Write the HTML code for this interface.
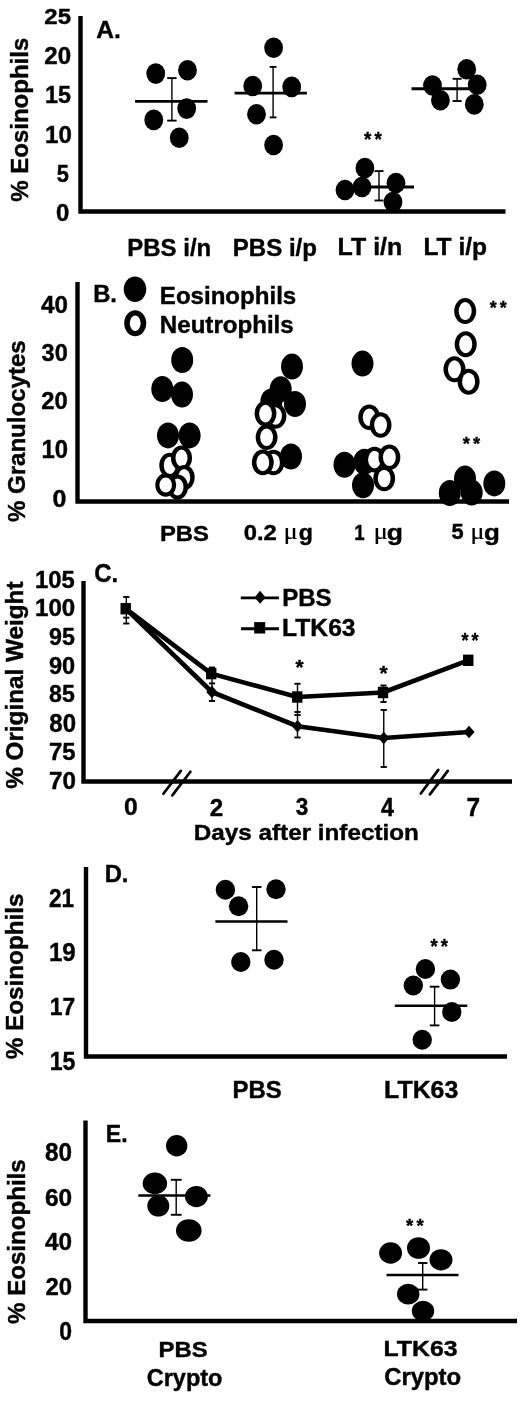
<!DOCTYPE html>
<html><head><meta charset="utf-8"><style>
html,body{margin:0;padding:0;background:#fff;}
svg{display:block;filter:blur(0.35px);}
</style></head><body>
<svg width="520" height="1401" viewBox="0 0 520 1401">
<rect width="520" height="1401" fill="#fff"/>
<path d="M80.5 16 V211.5 H505.5" fill="none" stroke="#000" stroke-width="4.4" stroke-linejoin="miter"/>
<text transform="translate(44.36,24.37) scale(1.0519,1)" font-family="&quot;Liberation Sans&quot;, sans-serif" font-weight="bold" font-size="22.82" fill="#000" stroke="#000" stroke-width="0.4">25</text>
<text transform="translate(44.36,63.57) scale(1.0290,1)" font-family="&quot;Liberation Sans&quot;, sans-serif" font-weight="bold" font-size="23.38" fill="#000" stroke="#000" stroke-width="0.4">20</text>
<text transform="translate(45.05,102.96) scale(0.9913,1)" font-family="&quot;Liberation Sans&quot;, sans-serif" font-weight="bold" font-size="23.57" fill="#000" stroke="#000" stroke-width="0.4">15</text>
<text transform="translate(45.00,143.16) scale(1.0099,1)" font-family="&quot;Liberation Sans&quot;, sans-serif" font-weight="bold" font-size="23.87" fill="#000" stroke="#000" stroke-width="0.4">10</text>
<text transform="translate(56.65,181.56) scale(0.9193,1)" font-family="&quot;Liberation Sans&quot;, sans-serif" font-weight="bold" font-size="23.71" fill="#000" stroke="#000" stroke-width="0.4">5</text>
<text transform="translate(56.04,220.56) scale(1.0083,1)" font-family="&quot;Liberation Sans&quot;, sans-serif" font-weight="bold" font-size="23.80" fill="#000" stroke="#000" stroke-width="0.4">0</text>
<text transform="translate(96.29,38.00) scale(0.9898,1)" font-family="&quot;Liberation Sans&quot;, sans-serif" font-weight="bold" font-size="24.78" fill="#000" stroke="#000" stroke-width="0.4">A.</text>
<text transform="translate(28.35,201.80) rotate(-90) scale(0.9987,1)" font-family="&quot;Liberation Sans&quot;, sans-serif" font-weight="bold" font-size="24.06" fill="#000" stroke="#000" stroke-width="0.4">% Eosinophils</text>
<text transform="translate(127.34,255.80) scale(0.9812,1)" font-family="&quot;Liberation Sans&quot;, sans-serif" font-weight="bold" font-size="24.43" fill="#000" stroke="#000" stroke-width="0.4">PBS i/n</text>
<text transform="translate(232.84,255.50) scale(1.0259,1)" font-family="&quot;Liberation Sans&quot;, sans-serif" font-weight="bold" font-size="23.43" fill="#000" stroke="#000" stroke-width="0.4">PBS i/p</text>
<text transform="translate(337.58,254.80) scale(1.0514,1)" font-family="&quot;Liberation Sans&quot;, sans-serif" font-weight="bold" font-size="23.77" fill="#000" stroke="#000" stroke-width="0.4">LT i/n</text>
<text transform="translate(423.40,254.80) scale(1.0328,1)" font-family="&quot;Liberation Sans&quot;, sans-serif" font-weight="bold" font-size="23.77" fill="#000" stroke="#000" stroke-width="0.4">LT i/p</text>
<line x1="135" y1="101.4" x2="207.5" y2="101.4" stroke="#000" stroke-width="2.8" stroke-linecap="butt"/>
<line x1="171.9" y1="78.1" x2="171.9" y2="120.6" stroke="#000" stroke-width="1.4" stroke-linecap="butt"/>
<line x1="167.20000000000002" y1="78.1" x2="176.6" y2="78.1" stroke="#000" stroke-width="1.9" stroke-linecap="butt"/>
<line x1="167.20000000000002" y1="120.6" x2="176.6" y2="120.6" stroke="#000" stroke-width="1.9" stroke-linecap="butt"/>
<ellipse cx="155.75" cy="73.6" rx="9.4" ry="10.3" fill="#000"/>
<ellipse cx="187.5" cy="70.2" rx="9.4" ry="10.3" fill="#000"/>
<ellipse cx="186.7" cy="108.6" rx="9.4" ry="10.3" fill="#000"/>
<ellipse cx="153.75" cy="119.9" rx="9.4" ry="10.3" fill="#000"/>
<ellipse cx="179.25" cy="137.8" rx="9.4" ry="10.3" fill="#000"/>
<line x1="234.6" y1="93.2" x2="306.9" y2="93.2" stroke="#000" stroke-width="2.8" stroke-linecap="butt"/>
<line x1="273.1" y1="66.9" x2="273.1" y2="117.4" stroke="#000" stroke-width="1.4" stroke-linecap="butt"/>
<line x1="269.70000000000005" y1="66.9" x2="276.5" y2="66.9" stroke="#000" stroke-width="1.9" stroke-linecap="butt"/>
<line x1="269.70000000000005" y1="117.4" x2="276.5" y2="117.4" stroke="#000" stroke-width="1.9" stroke-linecap="butt"/>
<ellipse cx="273.6" cy="47.7" rx="9.4" ry="10.3" fill="#000"/>
<ellipse cx="252.7" cy="86" rx="9.4" ry="10.3" fill="#000"/>
<ellipse cx="291.7" cy="86.9" rx="9.4" ry="10.3" fill="#000"/>
<ellipse cx="256.5" cy="114.2" rx="9.4" ry="10.3" fill="#000"/>
<ellipse cx="273.6" cy="145" rx="9.4" ry="10.3" fill="#000"/>
<line x1="343" y1="187" x2="414" y2="187" stroke="#000" stroke-width="3" stroke-linecap="butt"/>
<line x1="379" y1="171.1" x2="379" y2="200.5" stroke="#000" stroke-width="1.4" stroke-linecap="butt"/>
<line x1="374.5" y1="171.1" x2="383.5" y2="171.1" stroke="#000" stroke-width="1.9" stroke-linecap="butt"/>
<line x1="374.5" y1="200.5" x2="383.5" y2="200.5" stroke="#000" stroke-width="1.9" stroke-linecap="butt"/>
<ellipse cx="364.9" cy="168" rx="9.4" ry="10.3" fill="#000"/>
<ellipse cx="345" cy="190" rx="9.4" ry="10.3" fill="#000"/>
<ellipse cx="362" cy="187" rx="9.4" ry="10.3" fill="#000"/>
<ellipse cx="396" cy="183" rx="9.4" ry="10.3" fill="#000"/>
<ellipse cx="393" cy="202" rx="9.4" ry="10.3" fill="#000"/>
<text transform="translate(364.11,146.26) scale(0.9054,1)" font-family="&quot;Liberation Sans&quot;, sans-serif" font-weight="bold" font-size="20.81" fill="#000" stroke="#000" stroke-width="0.4">*</text>
<text transform="translate(374.55,146.26) scale(0.9054,1)" font-family="&quot;Liberation Sans&quot;, sans-serif" font-weight="bold" font-size="20.81" fill="#000" stroke="#000" stroke-width="0.4">*</text>
<line x1="411.5" y1="88.8" x2="484" y2="88.8" stroke="#000" stroke-width="3" stroke-linecap="butt"/>
<line x1="457.1" y1="78.8" x2="457.1" y2="101" stroke="#000" stroke-width="1.4" stroke-linecap="butt"/>
<line x1="452.6" y1="78.8" x2="461.6" y2="78.8" stroke="#000" stroke-width="1.9" stroke-linecap="butt"/>
<line x1="452.6" y1="101" x2="461.6" y2="101" stroke="#000" stroke-width="1.9" stroke-linecap="butt"/>
<ellipse cx="432.5" cy="85.5" rx="9.4" ry="10.3" fill="#000"/>
<ellipse cx="440.4" cy="100.2" rx="9.4" ry="10.3" fill="#000"/>
<ellipse cx="466.7" cy="69.2" rx="9.4" ry="10.3" fill="#000"/>
<ellipse cx="477.2" cy="84.7" rx="9.4" ry="10.3" fill="#000"/>
<ellipse cx="474.3" cy="104.4" rx="9.4" ry="10.3" fill="#000"/>
<path d="M77.5 282 V501.5 H509" fill="none" stroke="#000" stroke-width="4.4"/>
<text transform="translate(40.94,312.76) scale(1.0095,1)" font-family="&quot;Liberation Sans&quot;, sans-serif" font-weight="bold" font-size="23.94" fill="#000" stroke="#000" stroke-width="0.4">40</text>
<text transform="translate(41.61,360.95) scale(0.9606,1)" font-family="&quot;Liberation Sans&quot;, sans-serif" font-weight="bold" font-size="24.51" fill="#000" stroke="#000" stroke-width="0.4">30</text>
<text transform="translate(41.37,409.15) scale(0.9698,1)" font-family="&quot;Liberation Sans&quot;, sans-serif" font-weight="bold" font-size="24.51" fill="#000" stroke="#000" stroke-width="0.4">20</text>
<text transform="translate(41.47,457.85) scale(0.9572,1)" font-family="&quot;Liberation Sans&quot;, sans-serif" font-weight="bold" font-size="24.93" fill="#000" stroke="#000" stroke-width="0.4">10</text>
<text transform="translate(52.40,506.96) scale(1.0525,1)" font-family="&quot;Liberation Sans&quot;, sans-serif" font-weight="bold" font-size="23.80" fill="#000" stroke="#000" stroke-width="0.4">0</text>
<text transform="translate(93.15,301.70) scale(0.9723,1)" font-family="&quot;Liberation Sans&quot;, sans-serif" font-weight="bold" font-size="24.49" fill="#000" stroke="#000" stroke-width="0.4">B.</text>
<text transform="translate(25.31,522.10) rotate(-90) scale(0.9743,1)" font-family="&quot;Liberation Sans&quot;, sans-serif" font-weight="bold" font-size="24.71" fill="#000" stroke="#000" stroke-width="0.4">% Granulocytes</text>
<ellipse cx="135" cy="289.2" rx="11.25" ry="12.7" fill="#000"/>
<ellipse cx="135.2" cy="323.2" rx="11" ry="13" fill="#000"/>
<ellipse cx="135.2" cy="323.2" rx="5.40" ry="7.80" fill="#fff"/>
<text transform="translate(159.84,303.60) scale(1.0203,1)" font-family="&quot;Liberation Sans&quot;, sans-serif" font-weight="bold" font-size="23.59" fill="#000" stroke="#000" stroke-width="0.4">Eosinophils</text>
<text transform="translate(159.83,332.70) scale(1.0343,1)" font-family="&quot;Liberation Sans&quot;, sans-serif" font-weight="bold" font-size="23.31" fill="#000" stroke="#000" stroke-width="0.4">Neutrophils</text>
<text transform="translate(159.95,540.67) scale(1.0383,1)" font-family="&quot;Liberation Sans&quot;, sans-serif" font-weight="bold" font-size="22.96" fill="#000" stroke="#000" stroke-width="0.4">PBS</text>
<text transform="translate(243.65,540.08) scale(1.0702,1)" font-family="&quot;Liberation Sans&quot;, sans-serif" font-weight="bold" font-size="22.25" fill="#000" stroke="#000" stroke-width="0.4">0.2</text>
<text transform="translate(354.28,539.70) scale(0.8499,1)" font-family="&quot;Liberation Sans&quot;, sans-serif" font-weight="bold" font-size="22.03" fill="#000" stroke="#000" stroke-width="0.4">1</text>
<text transform="translate(451.45,539.48) scale(1.0039,1)" font-family="&quot;Liberation Sans&quot;, sans-serif" font-weight="bold" font-size="21.71" fill="#000" stroke="#000" stroke-width="0.4">5</text>
<text transform="translate(298.77,539.74) scale(1.0660,1)" font-family="&quot;Liberation Sans&quot;, sans-serif" font-weight="bold" font-size="21.73" fill="#000" stroke="#000" stroke-width="0.4">g</text>
<text transform="translate(386.64,539.74) scale(1.2209,1)" font-family="&quot;Liberation Sans&quot;, sans-serif" font-weight="bold" font-size="21.73" fill="#000" stroke="#000" stroke-width="0.4">g</text>
<text transform="translate(483.96,539.74) scale(1.1936,1)" font-family="&quot;Liberation Sans&quot;, sans-serif" font-weight="bold" font-size="21.73" fill="#000" stroke="#000" stroke-width="0.4">g</text>
<text transform="translate(283.85,539.45) scale(1.1541,1)" font-family="&quot;Liberation Serif&quot;, serif" font-weight="normal" font-size="22.44" fill="#000" stroke="#000" stroke-width="0.25">μ</text>
<text transform="translate(373.63,539.45) scale(1.1649,1)" font-family="&quot;Liberation Serif&quot;, serif" font-weight="normal" font-size="22.44" fill="#000" stroke="#000" stroke-width="0.25">μ</text>
<text transform="translate(470.53,539.45) scale(1.1649,1)" font-family="&quot;Liberation Serif&quot;, serif" font-weight="normal" font-size="22.44" fill="#000" stroke="#000" stroke-width="0.25">μ</text>
<ellipse cx="182.2" cy="360" rx="11" ry="13" fill="#000"/>
<ellipse cx="162.3" cy="389" rx="11" ry="13" fill="#000"/>
<ellipse cx="182" cy="394.6" rx="11" ry="13" fill="#000"/>
<ellipse cx="168" cy="435.4" rx="11" ry="13" fill="#000"/>
<ellipse cx="189.6" cy="435.4" rx="11" ry="13" fill="#000"/>
<ellipse cx="169.8" cy="465.4" rx="10.5" ry="12.6" fill="#000"/>
<ellipse cx="169.8" cy="465.4" rx="6.00" ry="8.60" fill="#fff"/>
<ellipse cx="181.5" cy="458" rx="10.5" ry="12.6" fill="#000"/>
<ellipse cx="181.5" cy="458" rx="6.00" ry="8.60" fill="#fff"/>
<ellipse cx="184.2" cy="477.5" rx="10.5" ry="12.6" fill="#000"/>
<ellipse cx="184.2" cy="477.5" rx="6.00" ry="8.60" fill="#fff"/>
<ellipse cx="177.5" cy="487" rx="10.5" ry="12.6" fill="#000"/>
<ellipse cx="177.5" cy="487" rx="6.00" ry="8.60" fill="#fff"/>
<ellipse cx="165.7" cy="485" rx="10.4" ry="11.8" fill="#000"/>
<ellipse cx="165.7" cy="485" rx="6.30" ry="7.40" fill="#fff"/>
<ellipse cx="292" cy="366.6" rx="11" ry="13" fill="#000"/>
<ellipse cx="280.7" cy="389.3" rx="11" ry="13" fill="#000"/>
<ellipse cx="271.4" cy="401.4" rx="11" ry="13" fill="#000"/>
<ellipse cx="295" cy="404" rx="11" ry="13" fill="#000"/>
<ellipse cx="291" cy="456.5" rx="11" ry="13" fill="#000"/>
<ellipse cx="275.5" cy="416" rx="10.9" ry="12.8" fill="#000"/>
<ellipse cx="275.5" cy="416" rx="6.40" ry="8.80" fill="#fff"/>
<ellipse cx="265.5" cy="413.6" rx="10.9" ry="12.8" fill="#000"/>
<ellipse cx="265.5" cy="413.6" rx="6.40" ry="8.80" fill="#fff"/>
<ellipse cx="266.6" cy="437.2" rx="10.9" ry="12.8" fill="#000"/>
<ellipse cx="266.6" cy="437.2" rx="6.40" ry="8.80" fill="#fff"/>
<ellipse cx="273.5" cy="462.5" rx="10.9" ry="12.8" fill="#000"/>
<ellipse cx="273.5" cy="462.5" rx="6.40" ry="8.80" fill="#fff"/>
<ellipse cx="262.8" cy="462.4" rx="10.9" ry="12.8" fill="#000"/>
<ellipse cx="262.8" cy="462.4" rx="6.40" ry="8.80" fill="#fff"/>
<ellipse cx="362.5" cy="363.6" rx="11" ry="13" fill="#000"/>
<ellipse cx="344.5" cy="464.7" rx="11" ry="13" fill="#000"/>
<ellipse cx="364.4" cy="461.8" rx="11" ry="13" fill="#000"/>
<ellipse cx="363" cy="485.3" rx="11" ry="13" fill="#000"/>
<ellipse cx="369.2" cy="417.2" rx="10.9" ry="12.8" fill="#000"/>
<ellipse cx="369.2" cy="417.2" rx="6.40" ry="8.80" fill="#fff"/>
<ellipse cx="380.6" cy="425" rx="10.9" ry="12.8" fill="#000"/>
<ellipse cx="380.6" cy="425" rx="6.40" ry="8.80" fill="#fff"/>
<ellipse cx="374.5" cy="459.6" rx="10.9" ry="12.8" fill="#000"/>
<ellipse cx="374.5" cy="459.6" rx="6.40" ry="8.80" fill="#fff"/>
<ellipse cx="389.4" cy="457.2" rx="10.9" ry="12.8" fill="#000"/>
<ellipse cx="389.4" cy="457.2" rx="6.40" ry="8.80" fill="#fff"/>
<ellipse cx="384.2" cy="478.5" rx="10.9" ry="12.8" fill="#000"/>
<ellipse cx="384.2" cy="478.5" rx="6.40" ry="8.80" fill="#fff"/>
<ellipse cx="465" cy="478.6" rx="11" ry="13" fill="#000"/>
<ellipse cx="449.8" cy="493" rx="11" ry="13" fill="#000"/>
<ellipse cx="471.7" cy="492.6" rx="11" ry="13" fill="#000"/>
<ellipse cx="494.3" cy="483.4" rx="11" ry="13" fill="#000"/>
<ellipse cx="465.2" cy="311.1" rx="11" ry="13" fill="#000"/>
<ellipse cx="465.2" cy="311.1" rx="6.50" ry="9.00" fill="#fff"/>
<ellipse cx="465.7" cy="344.2" rx="11" ry="13" fill="#000"/>
<ellipse cx="465.7" cy="344.2" rx="6.50" ry="9.00" fill="#fff"/>
<ellipse cx="454.5" cy="369.3" rx="11" ry="13" fill="#000"/>
<ellipse cx="454.5" cy="369.3" rx="6.50" ry="9.00" fill="#fff"/>
<ellipse cx="468.6" cy="381.7" rx="11" ry="13" fill="#000"/>
<ellipse cx="468.6" cy="381.7" rx="6.50" ry="9.00" fill="#fff"/>
<text transform="translate(489.71,313.81) scale(1.0005,1)" font-family="&quot;Liberation Sans&quot;, sans-serif" font-weight="bold" font-size="17.84" fill="#000" stroke="#000" stroke-width="0.4">*</text>
<text transform="translate(499.63,313.81) scale(1.0005,1)" font-family="&quot;Liberation Sans&quot;, sans-serif" font-weight="bold" font-size="17.84" fill="#000" stroke="#000" stroke-width="0.4">*</text>
<text transform="translate(462.81,449.65) scale(0.9667,1)" font-family="&quot;Liberation Sans&quot;, sans-serif" font-weight="bold" font-size="18.92" fill="#000" stroke="#000" stroke-width="0.4">*</text>
<text transform="translate(472.96,449.65) scale(0.9667,1)" font-family="&quot;Liberation Sans&quot;, sans-serif" font-weight="bold" font-size="18.92" fill="#000" stroke="#000" stroke-width="0.4">*</text>
<path d="M83.5 581 V781.5 H512" fill="none" stroke="#000" stroke-width="4.4"/>
<text transform="translate(35.07,588.16) scale(1.0024,1)" font-family="&quot;Liberation Sans&quot;, sans-serif" font-weight="bold" font-size="23.80" fill="#000" stroke="#000" stroke-width="0.4">105</text>
<text transform="translate(35.05,616.46) scale(1.0120,1)" font-family="&quot;Liberation Sans&quot;, sans-serif" font-weight="bold" font-size="23.80" fill="#000" stroke="#000" stroke-width="0.4">100</text>
<text transform="translate(48.99,644.76) scale(0.9763,1)" font-family="&quot;Liberation Sans&quot;, sans-serif" font-weight="bold" font-size="23.80" fill="#000" stroke="#000" stroke-width="0.4">95</text>
<text transform="translate(48.97,673.55) scale(0.9565,1)" font-family="&quot;Liberation Sans&quot;, sans-serif" font-weight="bold" font-size="24.65" fill="#000" stroke="#000" stroke-width="0.4">90</text>
<text transform="translate(49.11,702.35) scale(0.9437,1)" font-family="&quot;Liberation Sans&quot;, sans-serif" font-weight="bold" font-size="24.51" fill="#000" stroke="#000" stroke-width="0.4">85</text>
<text transform="translate(49.28,732.25) scale(0.9643,1)" font-family="&quot;Liberation Sans&quot;, sans-serif" font-weight="bold" font-size="24.93" fill="#000" stroke="#000" stroke-width="0.4">80</text>
<text transform="translate(49.04,760.36) scale(1.0088,1)" font-family="&quot;Liberation Sans&quot;, sans-serif" font-weight="bold" font-size="23.71" fill="#000" stroke="#000" stroke-width="0.4">75</text>
<text transform="translate(49.03,788.76) scale(1.0197,1)" font-family="&quot;Liberation Sans&quot;, sans-serif" font-weight="bold" font-size="23.80" fill="#000" stroke="#000" stroke-width="0.4">70</text>
<text transform="translate(94.14,582.15) scale(0.9440,1)" font-family="&quot;Liberation Sans&quot;, sans-serif" font-weight="bold" font-size="25.35" fill="#000" stroke="#000" stroke-width="0.4">C.</text>
<text transform="translate(23.42,788.81) rotate(-90) scale(1.0051,1)" font-family="&quot;Liberation Sans&quot;, sans-serif" font-weight="bold" font-size="24.17" fill="#000" stroke="#000" stroke-width="0.4">% Original Weight</text>
<line x1="163.4" y1="793.8" x2="180.8" y2="770.9" stroke="#000" stroke-width="2.7" stroke-linecap="round"/>
<line x1="172.3" y1="795.4" x2="190.4" y2="771.8" stroke="#000" stroke-width="2.7" stroke-linecap="round"/>
<line x1="420.8" y1="793.5" x2="438.3" y2="769.9" stroke="#000" stroke-width="2.7" stroke-linecap="round"/>
<line x1="429.9" y1="794.4" x2="447.8" y2="770.9" stroke="#000" stroke-width="2.7" stroke-linecap="round"/>
<text transform="translate(124.01,815.26) scale(1.0109,1)" font-family="&quot;Liberation Sans&quot;, sans-serif" font-weight="bold" font-size="24.37" fill="#000" stroke="#000" stroke-width="0.4">0</text>
<text transform="translate(209.65,815.50) scale(0.9778,1)" font-family="&quot;Liberation Sans&quot;, sans-serif" font-weight="bold" font-size="24.71" fill="#000" stroke="#000" stroke-width="0.4">2</text>
<text transform="translate(295.83,815.26) scale(0.9286,1)" font-family="&quot;Liberation Sans&quot;, sans-serif" font-weight="bold" font-size="24.37" fill="#000" stroke="#000" stroke-width="0.4">3</text>
<text transform="translate(381.05,815.50) scale(0.9244,1)" font-family="&quot;Liberation Sans&quot;, sans-serif" font-weight="bold" font-size="25.07" fill="#000" stroke="#000" stroke-width="0.4">4</text>
<text transform="translate(466.52,815.50) scale(0.9740,1)" font-family="&quot;Liberation Sans&quot;, sans-serif" font-weight="bold" font-size="25.07" fill="#000" stroke="#000" stroke-width="0.4">7</text>
<text transform="translate(193.82,840.20) scale(1.0595,1)" font-family="&quot;Liberation Sans&quot;, sans-serif" font-weight="bold" font-size="22.90" fill="#000" stroke="#000" stroke-width="0.4">Days after infection</text>
<line x1="240.8" y1="597.9" x2="278.9" y2="597.9" stroke="#000" stroke-width="2.9" stroke-linecap="butt"/>
<polygon points="254.6,597.4 260.1,590.8 265.6,597.4 260.1,603.8" fill="#000"/>
<line x1="241.1" y1="628.8" x2="278.9" y2="628.8" stroke="#000" stroke-width="2.9" stroke-linecap="butt"/>
<rect x="254.2" y="622.1" width="11" height="11.4" fill="#000"/>
<text transform="translate(282.13,606.20) scale(0.9920,1)" font-family="&quot;Liberation Sans&quot;, sans-serif" font-weight="bold" font-size="24.29" fill="#000" stroke="#000" stroke-width="0.4">PBS</text>
<text transform="translate(282.10,636.20) scale(1.0309,1)" font-family="&quot;Liberation Sans&quot;, sans-serif" font-weight="bold" font-size="23.91" fill="#000" stroke="#000" stroke-width="0.4">LTK63</text>
<polyline points="125.7,608.7 211.9,692 297.5,726.25 383.75,738 469,732" fill="none" stroke="#000" stroke-width="4.6" stroke-linejoin="round"/>
<polyline points="125.7,608.7 211.2,673.6 297.25,697 383,692.5 468.25,660.3" fill="none" stroke="#000" stroke-width="4.6" stroke-linejoin="round"/>
<line x1="126.3" y1="597" x2="126.3" y2="623.5" stroke="#000" stroke-width="1.4" stroke-linecap="butt"/>
<line x1="123.2" y1="597" x2="129.4" y2="597" stroke="#000" stroke-width="1.9" stroke-linecap="butt"/>
<line x1="123.2" y1="623.5" x2="129.4" y2="623.5" stroke="#000" stroke-width="1.9" stroke-linecap="butt"/>
<line x1="123.2" y1="617.7" x2="129.4" y2="617.7" stroke="#000" stroke-width="1.9" stroke-linecap="butt"/>
<line x1="212" y1="667.5" x2="212" y2="701" stroke="#000" stroke-width="1.4" stroke-linecap="butt"/>
<line x1="208.9" y1="667.5" x2="215.1" y2="667.5" stroke="#000" stroke-width="1.9" stroke-linecap="butt"/>
<line x1="208.9" y1="701" x2="215.1" y2="701" stroke="#000" stroke-width="1.9" stroke-linecap="butt"/>
<line x1="208.9" y1="683.4" x2="215.1" y2="683.4" stroke="#000" stroke-width="1.9" stroke-linecap="butt"/>
<line x1="297.5" y1="683.75" x2="297.5" y2="737.5" stroke="#000" stroke-width="1.4" stroke-linecap="butt"/>
<line x1="294.4" y1="683.75" x2="300.6" y2="683.75" stroke="#000" stroke-width="1.9" stroke-linecap="butt"/>
<line x1="294.4" y1="737.5" x2="300.6" y2="737.5" stroke="#000" stroke-width="1.9" stroke-linecap="butt"/>
<line x1="294.4" y1="712" x2="300.6" y2="712" stroke="#000" stroke-width="1.9" stroke-linecap="butt"/>
<line x1="294.4" y1="715" x2="300.6" y2="715" stroke="#000" stroke-width="1.9" stroke-linecap="butt"/>
<line x1="383.5" y1="685.5" x2="383.5" y2="702" stroke="#000" stroke-width="1.4" stroke-linecap="butt"/>
<line x1="380.4" y1="685.5" x2="386.6" y2="685.5" stroke="#000" stroke-width="1.9" stroke-linecap="butt"/>
<line x1="380.4" y1="702" x2="386.6" y2="702" stroke="#000" stroke-width="1.9" stroke-linecap="butt"/>
<line x1="383.75" y1="710" x2="383.75" y2="767" stroke="#000" stroke-width="1.4" stroke-linecap="butt"/>
<line x1="380.65" y1="710" x2="386.85" y2="710" stroke="#000" stroke-width="1.9" stroke-linecap="butt"/>
<line x1="380.65" y1="767" x2="386.85" y2="767" stroke="#000" stroke-width="1.9" stroke-linecap="butt"/>
<polygon points="206.3,692 211.9,685.7 217.5,692 211.9,698.3" fill="#000"/>
<polygon points="291.9,726.25 297.5,719.95 303.1,726.25 297.5,732.55" fill="#000"/>
<polygon points="378.15,738 383.75,731.7 389.35,738 383.75,744.3" fill="#000"/>
<polygon points="463.4,732 469,725.7 474.6,732 469,738.3" fill="#000"/>
<rect x="120.5" y="603.0" width="10.4" height="11.4" fill="#000"/>
<rect x="206.0" y="667.9" width="10.4" height="11.4" fill="#000"/>
<rect x="292.05" y="691.3" width="10.4" height="11.4" fill="#000"/>
<rect x="377.8" y="686.8" width="10.4" height="11.4" fill="#000"/>
<rect x="463.05" y="654.5999999999999" width="10.4" height="11.4" fill="#000"/>
<text transform="translate(295.50,673.79) scale(1.0256,1)" font-family="&quot;Liberation Sans&quot;, sans-serif" font-weight="bold" font-size="20.27" fill="#000" stroke="#000" stroke-width="0.4">*</text>
<text transform="translate(379.50,679.81) scale(1.0537,1)" font-family="&quot;Liberation Sans&quot;, sans-serif" font-weight="bold" font-size="19.73" fill="#000" stroke="#000" stroke-width="0.4">*</text>
<text transform="translate(461.41,647.43) scale(0.9285,1)" font-family="&quot;Liberation Sans&quot;, sans-serif" font-weight="bold" font-size="19.46" fill="#000" stroke="#000" stroke-width="0.4">*</text>
<text transform="translate(471.44,647.43) scale(0.9285,1)" font-family="&quot;Liberation Sans&quot;, sans-serif" font-weight="bold" font-size="19.46" fill="#000" stroke="#000" stroke-width="0.4">*</text>
<path d="M86 867 V1056.5 H507" fill="none" stroke="#000" stroke-width="4.4"/>
<text transform="translate(48.91,906.60) scale(0.9029,1)" font-family="&quot;Liberation Sans&quot;, sans-serif" font-weight="bold" font-size="25.00" fill="#000" stroke="#000" stroke-width="0.4">21</text>
<text transform="translate(48.96,960.74) scale(0.9378,1)" font-family="&quot;Liberation Sans&quot;, sans-serif" font-weight="bold" font-size="25.63" fill="#000" stroke="#000" stroke-width="0.4">19</text>
<text transform="translate(49.73,1015.40) scale(0.9353,1)" font-family="&quot;Liberation Sans&quot;, sans-serif" font-weight="bold" font-size="24.35" fill="#000" stroke="#000" stroke-width="0.4">17</text>
<text transform="translate(49.71,1069.55) scale(0.9249,1)" font-family="&quot;Liberation Sans&quot;, sans-serif" font-weight="bold" font-size="25.00" fill="#000" stroke="#000" stroke-width="0.4">15</text>
<text transform="translate(104.65,882.30) scale(0.9723,1)" font-family="&quot;Liberation Sans&quot;, sans-serif" font-weight="bold" font-size="24.49" fill="#000" stroke="#000" stroke-width="0.4">D.</text>
<text transform="translate(23.45,1059.31) rotate(-90) scale(1.0505,1)" font-family="&quot;Liberation Sans&quot;, sans-serif" font-weight="bold" font-size="23.10" fill="#000" stroke="#000" stroke-width="0.4">% Eosinophils</text>
<text transform="translate(232.44,1097.87) scale(1.0301,1)" font-family="&quot;Liberation Sans&quot;, sans-serif" font-weight="bold" font-size="23.24" fill="#000" stroke="#000" stroke-width="0.4">PBS</text>
<text transform="translate(384.08,1097.66) scale(1.0459,1)" font-family="&quot;Liberation Sans&quot;, sans-serif" font-weight="bold" font-size="23.80" fill="#000" stroke="#000" stroke-width="0.4">LTK63</text>
<line x1="215.4" y1="921.6" x2="287.5" y2="921.6" stroke="#000" stroke-width="2.5" stroke-linecap="butt"/>
<line x1="256.7" y1="887" x2="256.7" y2="950.3" stroke="#000" stroke-width="1.4" stroke-linecap="butt"/>
<line x1="251.89999999999998" y1="887" x2="261.5" y2="887" stroke="#000" stroke-width="1.9" stroke-linecap="butt"/>
<line x1="251.89999999999998" y1="950.3" x2="261.5" y2="950.3" stroke="#000" stroke-width="1.9" stroke-linecap="butt"/>
<ellipse cx="225.4" cy="889.7" rx="9.7" ry="10" fill="#000"/>
<ellipse cx="238.6" cy="906.3" rx="9.7" ry="10" fill="#000"/>
<ellipse cx="276" cy="889.2" rx="9.7" ry="10" fill="#000"/>
<ellipse cx="240.8" cy="962" rx="9.7" ry="10" fill="#000"/>
<ellipse cx="274" cy="959.8" rx="9.7" ry="10" fill="#000"/>
<line x1="394.8" y1="1005.8" x2="467.3" y2="1005.8" stroke="#000" stroke-width="2.5" stroke-linecap="butt"/>
<line x1="434.6" y1="986.7" x2="434.6" y2="1025.4" stroke="#000" stroke-width="1.4" stroke-linecap="butt"/>
<line x1="429.8" y1="986.7" x2="439.40000000000003" y2="986.7" stroke="#000" stroke-width="1.9" stroke-linecap="butt"/>
<line x1="429.8" y1="1025.4" x2="439.40000000000003" y2="1025.4" stroke="#000" stroke-width="1.9" stroke-linecap="butt"/>
<ellipse cx="425.4" cy="969" rx="9.7" ry="10" fill="#000"/>
<ellipse cx="413.3" cy="985.5" rx="9.7" ry="10" fill="#000"/>
<ellipse cx="450.4" cy="979.6" rx="9.7" ry="10" fill="#000"/>
<ellipse cx="451.8" cy="1012" rx="9.7" ry="10" fill="#000"/>
<ellipse cx="422.2" cy="1039.7" rx="9.7" ry="10" fill="#000"/>
<text transform="translate(430.41,953.30) scale(0.9255,1)" font-family="&quot;Liberation Sans&quot;, sans-serif" font-weight="bold" font-size="20.00" fill="#000" stroke="#000" stroke-width="0.4">*</text>
<text transform="translate(440.67,953.30) scale(0.9255,1)" font-family="&quot;Liberation Sans&quot;, sans-serif" font-weight="bold" font-size="20.00" fill="#000" stroke="#000" stroke-width="0.4">*</text>
<path d="M85.5 1120.4 V1321 H517" fill="none" stroke="#000" stroke-width="4.4"/>
<text transform="translate(45.07,1161.15) scale(0.9596,1)" font-family="&quot;Liberation Sans&quot;, sans-serif" font-weight="bold" font-size="25.35" fill="#000" stroke="#000" stroke-width="0.4">80</text>
<text transform="translate(44.94,1205.55) scale(0.9974,1)" font-family="&quot;Liberation Sans&quot;, sans-serif" font-weight="bold" font-size="24.51" fill="#000" stroke="#000" stroke-width="0.4">60</text>
<text transform="translate(45.03,1249.85) scale(0.9940,1)" font-family="&quot;Liberation Sans&quot;, sans-serif" font-weight="bold" font-size="24.51" fill="#000" stroke="#000" stroke-width="0.4">40</text>
<text transform="translate(45.56,1294.86) scale(0.9794,1)" font-family="&quot;Liberation Sans&quot;, sans-serif" font-weight="bold" font-size="24.37" fill="#000" stroke="#000" stroke-width="0.4">20</text>
<text transform="translate(59.28,1339.95) scale(0.9001,1)" font-family="&quot;Liberation Sans&quot;, sans-serif" font-weight="bold" font-size="25.49" fill="#000" stroke="#000" stroke-width="0.4">0</text>
<text transform="translate(105.80,1141.70) scale(0.9316,1)" font-family="&quot;Liberation Sans&quot;, sans-serif" font-weight="bold" font-size="24.78" fill="#000" stroke="#000" stroke-width="0.4">E.</text>
<text transform="translate(24.93,1324.00) rotate(-90) scale(1.0387,1)" font-family="&quot;Liberation Sans&quot;, sans-serif" font-weight="bold" font-size="23.21" fill="#000" stroke="#000" stroke-width="0.4">% Eosinophils</text>
<text transform="translate(158.55,1357.47) scale(1.0405,1)" font-family="&quot;Liberation Sans&quot;, sans-serif" font-weight="bold" font-size="22.96" fill="#000" stroke="#000" stroke-width="0.4">PBS</text>
<text transform="translate(146.66,1386.20) scale(0.9691,1)" font-family="&quot;Liberation Sans&quot;, sans-serif" font-weight="bold" font-size="24.29" fill="#000" stroke="#000" stroke-width="0.4">Crypto</text>
<text transform="translate(383.49,1355.88) scale(1.1521,1)" font-family="&quot;Liberation Sans&quot;, sans-serif" font-weight="bold" font-size="21.55" fill="#000" stroke="#000" stroke-width="0.4">LTK63</text>
<text transform="translate(384.14,1385.31) scale(0.9673,1)" font-family="&quot;Liberation Sans&quot;, sans-serif" font-weight="bold" font-size="24.73" fill="#000" stroke="#000" stroke-width="0.4">Crypto</text>
<line x1="138.3" y1="1195.5" x2="210.4" y2="1195.5" stroke="#000" stroke-width="2.5" stroke-linecap="butt"/>
<line x1="176.2" y1="1179.8" x2="176.2" y2="1214.8" stroke="#000" stroke-width="1.4" stroke-linecap="butt"/>
<line x1="170.79999999999998" y1="1179.8" x2="181.6" y2="1179.8" stroke="#000" stroke-width="1.9" stroke-linecap="butt"/>
<line x1="170.79999999999998" y1="1214.8" x2="181.6" y2="1214.8" stroke="#000" stroke-width="1.9" stroke-linecap="butt"/>
<ellipse cx="176.7" cy="1145.8" rx="10.7" ry="10.7" fill="#000"/>
<ellipse cx="154.9" cy="1183.4" rx="12.2" ry="10.8" fill="#000"/>
<ellipse cx="158.3" cy="1205.8" rx="11" ry="10.8" fill="#000"/>
<ellipse cx="196.4" cy="1196.6" rx="11.4" ry="10.6" fill="#000"/>
<ellipse cx="188.8" cy="1230.5" rx="12.8" ry="11.3" fill="#000"/>
<line x1="386.5" y1="1275" x2="458.5" y2="1275" stroke="#000" stroke-width="2.5" stroke-linecap="butt"/>
<line x1="422.7" y1="1263" x2="422.7" y2="1289.6" stroke="#000" stroke-width="1.4" stroke-linecap="butt"/>
<line x1="417.95" y1="1263" x2="427.45" y2="1263" stroke="#000" stroke-width="1.9" stroke-linecap="butt"/>
<line x1="417.95" y1="1289.6" x2="427.45" y2="1289.6" stroke="#000" stroke-width="1.9" stroke-linecap="butt"/>
<ellipse cx="390.6" cy="1253" rx="11.5" ry="10.7" fill="#000"/>
<ellipse cx="418.5" cy="1248" rx="11.5" ry="10.8" fill="#000"/>
<ellipse cx="441" cy="1259.8" rx="11.5" ry="10.6" fill="#000"/>
<ellipse cx="408.2" cy="1294.2" rx="11.2" ry="10.4" fill="#000"/>
<ellipse cx="423" cy="1311" rx="11.2" ry="10.2" fill="#000"/>
<text transform="translate(406.11,1232.04) scale(0.9704,1)" font-family="&quot;Liberation Sans&quot;, sans-serif" font-weight="bold" font-size="19.19" fill="#000" stroke="#000" stroke-width="0.4">*</text>
<text transform="translate(416.43,1232.04) scale(0.9704,1)" font-family="&quot;Liberation Sans&quot;, sans-serif" font-weight="bold" font-size="19.19" fill="#000" stroke="#000" stroke-width="0.4">*</text>
</svg>
</body></html>
